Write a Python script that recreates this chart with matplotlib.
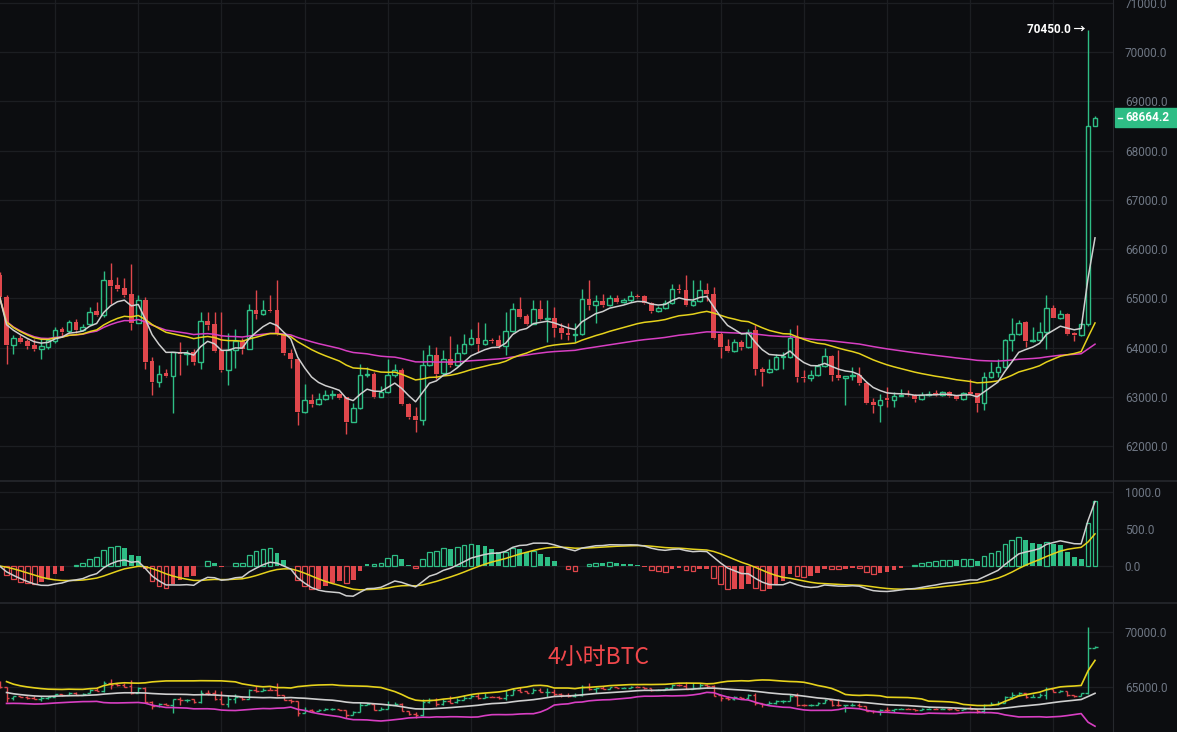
import matplotlib
matplotlib.use("Agg")
import matplotlib.pyplot as plt
import numpy as np
import pandas as pd
from matplotlib.patches import Rectangle
from matplotlib.lines import Line2D
from matplotlib.ticker import FuncFormatter

# 4h BTC candles (left to right)
opens = [
    65466, 65026, 64045, 64200, 64133, 64045, 63970, 64011, 64133, 64370,
    64336, 64519, 64350, 64484, 64735, 64667, 65364, 65263, 65209, 65080,
    64498, 64958, 63720, 63300, 63483, 63422, 63909, 63862, 63909, 63706,
    64532, 64471, 63943, 63537, 63957, 64133, 63977, 64769, 64688, 64769,
    64756, 64281, 63889, 63774, 62690, 62941, 62846, 62961, 63029, 63050,
    62995, 62487, 62778, 63435, 63469, 62995, 63097, 63435, 63537, 62846,
    62602, 62521, 63652, 63841, 63483, 63774, 63652, 63889, 64079, 64200,
    64079, 64160, 64146, 64031, 64336, 64789, 64633, 64485, 64789, 64586,
    64606, 64397, 64295, 64248, 64275, 64992, 64857, 64938, 64857, 65006,
    64925, 64958, 65040, 65040, 64911, 64742, 64803, 64911, 65196, 65162,
    64871, 64938, 65175, 65094, 64268, 64025, 63930, 64113, 64011, 64350,
    63571, 63504, 63571, 63808, 63808, 64200, 63402, 63389, 63450, 63618,
    63828, 63436, 63389, 63415, 63450, 63280, 62891, 62844, 62980, 62939,
    63026, 63046, 63046, 62959, 63040, 63073, 63040, 63094, 63026, 62959,
    63100, 63073, 62871, 63399, 63500, 63602, 64157, 64279, 64516, 64130,
    64157, 64313, 64807, 64604, 64685, 64299, 64259, 64469, 68497,
]
highs = [
    65540, 65060, 64248, 64250, 64180, 64180, 64180, 64200, 64417, 64420,
    64550, 64570, 64470, 64823, 64925, 65554, 65723, 65432, 65419, 65690,
    65060, 65026, 63808, 63638, 63570, 63909, 64112, 63950, 63975, 64722,
    64722, 64722, 64715, 64295, 64383, 64200, 64877, 65162, 64958, 65060,
    65378, 64320, 63977, 63774, 63266, 63050, 63080, 63130, 63130, 63080,
    62995, 62880, 63658, 63604, 63500, 63212, 63774, 63672, 63591, 62870,
    62792, 63943, 64058, 64011, 63957, 64228, 64079, 64268, 64383, 64518,
    64498, 64200, 64250, 64722, 64905, 65026, 64690, 64972, 64972, 64972,
    64823, 64500, 64505, 64500, 65196, 65365, 65060, 65080, 65060, 65060,
    65000, 65148, 65090, 65070, 64930, 64850, 64972, 65284, 65300, 65480,
    65365, 65365, 65311, 65230, 64316, 64180, 64180, 64150, 64383, 64451,
    63600, 63774, 63876, 63900, 64380, 64448, 63540, 63540, 63660, 63997,
    63850, 63943, 63420, 63600, 63600, 63300, 62980, 63060, 63209, 63090,
    63161, 63130, 63060, 63100, 63110, 63130, 63120, 63110, 63040, 63090,
    63365, 63073, 63500, 63703, 63771, 64180, 64604, 64563, 64530, 64414,
    64516, 65057, 64854, 64753, 64700, 64320, 64500, 70450, 68710,
]
lows = [
    64950, 63672, 63862, 64090, 63980, 63940, 63767, 63980, 64090, 64230,
    64295, 64295, 64330, 64450, 64640, 64620, 64891, 65150, 65030, 64363,
    64498, 63571, 63029, 63198, 63400, 62670, 63435, 63640, 63638, 63571,
    64350, 63900, 63503, 63232, 63591, 63875, 63963, 64586, 64660, 64720,
    64250, 63842, 63591, 62420, 62670, 62790, 62830, 62940, 62960, 62960,
    62250, 62480, 62760, 63400, 62980, 62990, 63080, 63400, 62830, 62555,
    62284, 62420, 63620, 63368, 63440, 63610, 63630, 63860, 64060, 63909,
    64050, 64100, 63990, 63842, 64320, 64600, 64460, 64470, 64560, 64113,
    64214, 64170, 64160, 64110, 64250, 64756, 64498, 64820, 64840, 64900,
    64900, 64930, 65000, 64890, 64700, 64720, 64780, 64890, 65100, 64850,
    64850, 64920, 64938, 64180, 63794, 63900, 63900, 63960, 63990, 63436,
    63212, 63480, 63540, 63560, 63780, 63297, 63300, 63330, 63420, 63600,
    63330, 63350, 62826, 63350, 63250, 62850, 62668, 62485, 62800, 62790,
    63010, 63010, 62890, 62930, 63020, 63010, 63020, 63000, 62930, 62940,
    63040, 62688, 62736, 63380, 63400, 63580, 63940, 64260, 64008, 64110,
    64140, 63974, 64590, 64580, 64259, 64143, 64230, 64440, 68497,
]
closes = [
    65026, 64045, 64200, 64112, 64024, 63963, 64024, 64146, 64363, 64315,
    64519, 64350, 64417, 64722, 64654, 65364, 65250, 65182, 65060, 64498,
    64958, 63706, 63300, 63469, 63422, 63909, 63862, 63895, 63706, 64532,
    64451, 63929, 63537, 63957, 64133, 63977, 64769, 64688, 64769, 64742,
    64281, 63889, 63774, 62690, 62941, 62846, 62961, 63029, 63050, 62982,
    62487, 62778, 63435, 63469, 62995, 63097, 63435, 63537, 62846, 62589,
    62521, 63652, 63841, 63469, 63774, 63638, 63889, 64079, 64200, 64079,
    64146, 64126, 64031, 64336, 64789, 64620, 64485, 64789, 64586, 64606,
    64397, 64295, 64248, 64275, 64992, 64857, 64938, 64857, 65006, 64925,
    64958, 65040, 65026, 64911, 64742, 64803, 64911, 65196, 65170, 64871,
    64938, 65175, 65094, 64200, 64011, 63930, 64113, 64011, 64316, 63571,
    63504, 63571, 63808, 63815, 64200, 63402, 63389, 63450, 63618, 63828,
    63436, 63389, 63415, 63450, 63280, 62874, 62844, 62939, 62939, 63026,
    63046, 63040, 62959, 63040, 63060, 63040, 63094, 63026, 62959, 63073,
    63060, 62871, 63399, 63500, 63602, 64157, 64279, 64496, 64130, 64157,
    64313, 64807, 64604, 64685, 64279, 64259, 64469, 68497, 68664,
]
last_price = 68664.2

main_ticks = [62000, 63000, 64000, 65000, 66000, 67000, 68000, 69000, 70000, 71000]
macd_ticks = [0, 500, 1000]
boll_ticks = [65000, 70000]

BG = "#0c0d10"
GRID = "#1c1e22"
SEP = "#26282d"
UP = "#2ebd85"
DOWN = "#e0474c"
WHITE_LINE = "#cfcfcf"
YELLOW_LINE = "#e6d21c"
PINK_LINE = "#d83fc3"
LABEL = "#6f7784"

W, H = 1177, 732
PLOT_W = 1113
STEP = 6.933  # pixels per candle

df = pd.DataFrame({"open": opens, "high": highs, "low": lows, "close": closes})
idx = np.arange(len(df))
up = (df["close"] >= df["open"]).values
c = df["close"]

ema_fast = c.ewm(span=7).mean()
ema_mid = c.ewm(span=30).mean()
ema_slow = c.ewm(span=99).mean()

dif = c.ewm(span=12, adjust=False).mean() - c.ewm(span=26, adjust=False).mean()
dea = dif.ewm(span=9, adjust=False).mean()
hist = 2 * (dif - dea)

boll_mid = c.rolling(20, min_periods=2).mean()
boll_sd = c.rolling(20, min_periods=2).std(ddof=0)
boll_up = boll_mid + 2 * boll_sd
boll_dn = boll_mid - 2 * boll_sd

plt.rcParams["font.family"] = ["Roboto", "Noto Sans CJK SC", "DejaVu Sans"]

fig = plt.figure(figsize=(W / 100, H / 100), dpi=100, facecolor=BG)


def panel(top, bottom, ylim, ticks):
    ax = fig.add_axes([0, 1 - bottom / H, PLOT_W / W, (bottom - top) / H])
    ax.set_facecolor(BG)
    for s in ax.spines.values():
        s.set_visible(False)
    ax.spines["right"].set_visible(True)
    ax.spines["right"].set_color(SEP)
    # ticks first, set_xticks would otherwise widen the view
    ax.set_xticks(np.arange(8, len(df), 12))
    ax.set_yticks(ticks)
    xl = 0.4 / STEP
    ax.set_xlim(xl, xl + PLOT_W / STEP)
    ax.set_ylim(*ylim)
    ax.tick_params(axis="x", length=0, labelbottom=False)
    ax.yaxis.tick_right()
    ax.tick_params(axis="y", length=0, pad=8.5, labelsize=8.5, labelcolor=LABEL)
    ax.yaxis.set_major_formatter(FuncFormatter(lambda v, p: f"{v:.1f}"))
    ax.grid(True, color=GRID, lw=0.9)
    ax.set_axisbelow(True)
    return ax


ax = panel(0, 481, (61291, 71056), main_ticks)
ax_macd = panel(481, 603, (-498, 1144), macd_ticks)
ax_boll = panel(603, 732, (60988, 72579), boll_ticks)

# candles
body_lo = np.minimum(df["open"], df["close"])
body_hi = np.maximum(df["open"], df["close"])
body_h = np.maximum(body_hi - body_lo, 12)
colors = np.where(up, UP, DOWN)
ax.vlines(idx, df["low"], body_lo, colors=colors, lw=1, zorder=2)
ax.vlines(idx, body_hi, df["high"], colors=colors, lw=1, zorder=2)
ax.bar(idx[up], body_h[up], bottom=body_lo[up], width=0.68,
       facecolor=BG, edgecolor=UP, lw=1, zorder=3)
ax.bar(idx[~up], body_h[~up], bottom=body_lo[~up], width=0.68,
       color=DOWN, lw=0, zorder=3)

ax.plot(idx, ema_slow, color=PINK_LINE, lw=1.1, zorder=4)
ax.plot(idx, ema_mid, color=YELLOW_LINE, lw=1.1, zorder=4)
ax.plot(idx, ema_fast, color=WHITE_LINE, lw=1.1, zorder=4)

hi_i = int(np.argmax(highs))
ax.text(hi_i - 0.45, highs[hi_i], f"{highs[hi_i]:.1f} \u2192", ha="right", va="center",
        color="white", fontsize=8.5, fontweight="bold", zorder=5)

# last price tag
py = ax.transData.transform((0, last_price))[1]
fig.add_artist(Rectangle((1115 / W, (py - 9.5) / H), 62 / W, 19 / H,
                         transform=fig.transFigure, color=UP, zorder=6))
fig.add_artist(Line2D([1118 / W, 1122 / W], [py / H, py / H],
                      transform=fig.transFigure, color="white", lw=1, zorder=7))
fig.text(1125 / W, py / H, f"{last_price:.1f}", color="white", fontsize=8.5,
         fontweight="bold", ha="left", va="center", zorder=7)

# MACD histogram: hollow while growing away from zero, filled while shrinking
prev = hist.shift(1).fillna(0)
grow = (hist.abs() >= prev.abs()).values
pos = (hist >= 0).values
hcol = np.where(pos, UP, DOWN)
ax_macd.bar(idx[grow], hist[grow], width=0.68, facecolor=BG,
            edgecolor=hcol[grow], lw=0.9, zorder=2)
ax_macd.bar(idx[~grow], hist[~grow], width=0.68, color=hcol[~grow], lw=0, zorder=2)
ax_macd.plot(idx, dea, color=YELLOW_LINE, lw=1.1, zorder=3)
ax_macd.plot(idx, dif, color=WHITE_LINE, lw=1.1, zorder=3)

# bottom pane: OHLC bars with Bollinger bands
ax_boll.vlines(idx, df["low"], df["high"], colors=colors, lw=1, zorder=2)
ax_boll.hlines(df["open"], idx - 0.4, idx, colors=colors, lw=1, zorder=2)
ax_boll.hlines(df["close"], idx, idx + 0.4, colors=colors, lw=1, zorder=2)
ax_boll.plot(idx, boll_up, color=YELLOW_LINE, lw=1.2, zorder=3)
ax_boll.plot(idx, boll_mid, color=WHITE_LINE, lw=1.2, zorder=3)
ax_boll.plot(idx, boll_dn, color=PINK_LINE, lw=1.2, zorder=3)

for yy in (481, 603):
    fig.add_artist(Line2D([0, 1], [1 - yy / H, 1 - yy / H], transform=fig.transFigure,
                          color=SEP, lw=1.2))

fig.text(547 / W, 1 - 657 / H, "4小时BTC", color="#f0474b", fontsize=16.5,
         family=["Noto Sans CJK SC", "DejaVu Sans"], ha="left", va="center")

fig.savefig("out.png", dpi=100, facecolor=BG)
